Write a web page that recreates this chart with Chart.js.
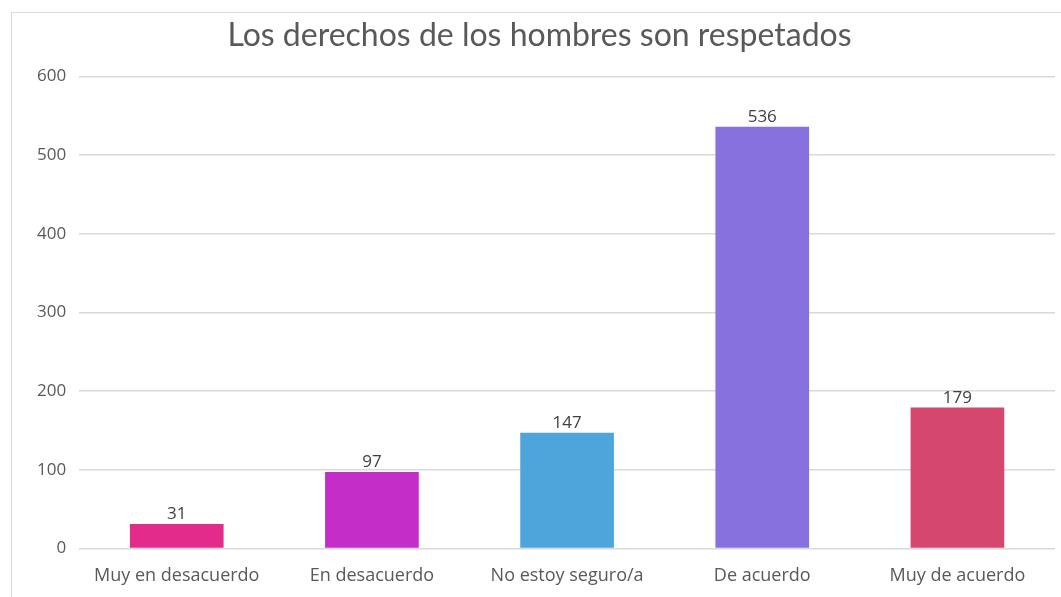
<!DOCTYPE html>
<html>
<head>
<meta charset="utf-8">
<script src="https://cdn.jsdelivr.net/npm/chart.js@4.4.1/dist/chart.umd.min.js"></script>
<style>
  html, body { margin: 0; padding: 0; background: #fff; }
  #wrap { position: relative; width: 1061px; height: 597px; }
</style>
</head>
<body>
<div id="wrap"><canvas id="chart-bars" width="1061" height="597"></canvas></div>
<script>
// chart data
var categories = ["Muy en desacuerdo", "En desacuerdo", "No estoy seguro/a", "De acuerdo", "Muy de acuerdo"];
var values = [31, 97, 147, 536, 179];
var barColors = ["#E32B8B", "#C42DC8", "#4EA5DC", "#8771DF", "#D5476F"];
var yTicks = [0, 100, 200, 300, 400, 500, 600];

// outer frame, like the copied chart box
var framePlugin = {
  id: "frame",
  beforeDraw: function (chart) {
    var c = chart.ctx;
    c.save();
    c.fillStyle = "#fff";
    c.fillRect(0, 0, chart.width, chart.height);
    c.strokeStyle = "#d9d9d9";
    c.lineWidth = 1;
    c.beginPath();
    c.moveTo(11.5, chart.height);
    c.lineTo(11.5, 12.5);
    c.lineTo(chart.width, 12.5);
    c.stroke();
    c.restore();
  },
};

// value labels above bars
var valueLabels = {
  id: "valueLabels",
  afterDatasetsDraw: function (chart) {
    var c = chart.ctx;
    var meta = chart.getDatasetMeta(0);
    c.save();
    c.font = "17px 'Open Sans'";
    c.fillStyle = "#404040";
    c.textAlign = "center";
    c.textBaseline = "bottom";
    meta.data.forEach(function (bar, i) {
      c.fillText(values[i], bar.x, bar.y - 1);
    });
    c.restore();
  },
};

var ctx = document.getElementById("chart-bars").getContext("2d");

new Chart(ctx, {
  type: "bar",
  data: {
    labels: categories,
    datasets: [
      {
        label: "Respuestas",
        backgroundColor: barColors,
        borderWidth: 0,
        borderRadius: 0,
        data: values,
        barPercentage: 0.48,
        categoryPercentage: 1,
      },
    ],
  },
  options: {
    responsive: false,
    animation: false,
    layout: {
      padding: { left: 24, right: 6, top: 6, bottom: -7 },
    },
    plugins: {
      legend: { display: false },
      tooltip: { enabled: false },
      title: {
        display: true,
        text: "Los derechos de los hombres son respetados",
        color: "#595959",
        font: { size: 32, family: "Lato", weight: "normal" },
        padding: { top: 10, bottom: 22 },
      },
    },
    scales: {
      y: {
        min: 0,
        max: 600,
        afterBuildTicks: function (axis) {
          axis.ticks = yTicks.map(function (v) { return { value: v }; });
        },
        border: { display: false },
        grid: {
          color: "#d9d9d9",
          lineWidth: 1.5,
          drawTicks: false,
        },
        ticks: {
          padding: 13,
          color: "#595959",
          font: { size: 17, family: "Open Sans" },
        },
      },
      x: {
        border: { display: false },
        grid: { display: false, drawTicks: false },
        ticks: {
          padding: 17,
          color: "#595959",
          font: { size: 18, family: "Open Sans" },
        },
      },
    },
  },
  plugins: [framePlugin, valueLabels],
});
</script>
</body>
</html>
